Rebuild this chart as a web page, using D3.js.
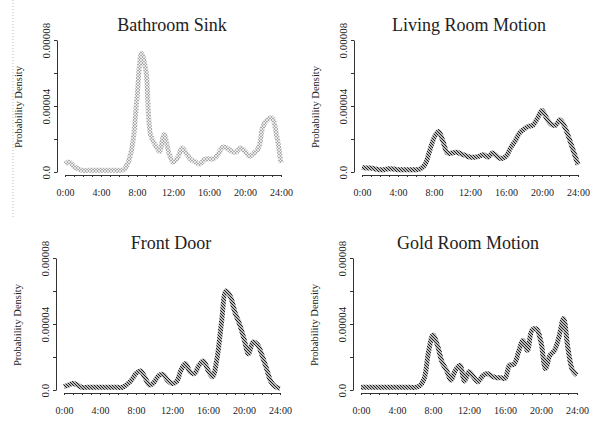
<!DOCTYPE html>
<html>
<head>
<meta charset="utf-8">
<script src="https://cdn.jsdelivr.net/npm/d3@7"></script>
<style>
  body { margin: 0; background: #fff; }
  svg { display: block; font-family: "Liberation Serif", "Times New Roman", serif; }
  .axis path, .axis line { stroke: #333; }
  .axis text { fill: #222; }
</style>
</head>
<body>
<svg id="chart" width="597" height="421"></svg>
<script>
// hours of the day, one point every half hour
const hours = [0, 0.5, 1, 1.5, 2, 2.5, 3, 3.5, 4, 4.5, 5, 5.5, 6, 6.5, 7, 7.5, 8, 8.5, 9, 9.5,
  10, 10.5, 11, 11.5, 12, 12.5, 13, 13.5, 14, 14.5, 15, 15.5, 16, 16.5, 17, 17.5, 18, 18.5, 19, 19.5,
  20, 20.5, 21, 21.5, 22, 22.5, 23, 23.5, 24];

// densities in units of 1e-5
const UNIT = 1e-5;
const bathroomSink = [0.48, 0.6, 0.34, 0.18, 0.1, 0.1, 0.1, 0.1, 0.1, 0.1, 0.1, 0.1, 0.1, 0.14, 0.55, 1.65, 4.5, 7.2, 6.1, 2.26,
  1.65, 1.25, 2.26, 1.25, 0.6, 0.85, 1.45, 1.1, 0.75, 0.6, 0.48, 0.75, 0.8, 0.8, 1.05, 1.5, 1.45, 1.25, 1.2, 1.45,
  1.25, 0.95, 1.15, 1.45, 2.77, 3.17, 3.27, 2.26, 0.55];
const livingRoom = [0.28, 0.24, 0.24, 0.18, 0.14, 0.14, 0.2, 0.18, 0.14, 0.14, 0.14, 0.14, 0.14, 0.2, 0.45, 1.25, 2.06, 2.46, 1.86, 1.15,
  1.15, 1.2, 1.1, 1.0, 0.9, 0.9, 0.95, 1.05, 0.9, 1.15, 0.95, 0.8, 0.95, 1.45, 1.86, 2.36, 2.6, 2.77, 2.83, 3.27,
  3.72, 3.27, 2.9, 2.83, 3.17, 2.77, 2.06, 1.25, 0.45];
const frontDoor = [0.2, 0.3, 0.4, 0.3, 0.16, 0.16, 0.16, 0.16, 0.16, 0.16, 0.16, 0.16, 0.16, 0.16, 0.34, 0.6, 1.0, 1.15, 0.75, 0.3,
  0.46, 0.87, 0.95, 0.6, 0.4, 0.5, 1.2, 1.6, 1.1, 1.0, 1.5, 1.75, 1.2, 0.8, 1.9, 4.1, 6.0, 5.65, 4.7, 4.0,
  3.1, 2.2, 2.9, 2.75, 2.1, 1.3, 0.5, 0.2, 0.1];
const goldRoom = [0.16, 0.16, 0.16, 0.16, 0.16, 0.16, 0.16, 0.16, 0.16, 0.16, 0.16, 0.16, 0.16, 0.24, 0.65, 2.3, 3.33, 2.7, 1.7, 1.2,
  0.6, 1.2, 1.5, 0.55, 1.1, 0.8, 0.5, 0.85, 1.0, 0.85, 0.75, 0.75, 0.7, 1.5, 1.55, 2.3, 3.0, 2.4, 3.64, 3.7,
  2.9, 1.3, 2.1, 2.4, 3.23, 4.34, 2.5, 1.2, 0.9];

const titles = ["Bathroom Sink", "Living Room Motion", "Front Door", "Gold Room Motion"];
const seriesList = [bathroomSink, livingRoom, frontDoor, goldRoom];
const yTicks = [0, 0.00002, 0.00004, 0.00006, 0.00008];
const yLabels = {0: "0.0", 0.00004: "0.00004", 0.00008: "0.00008"};
const xTicks = d3.range(0, 25, 1);

const svg = d3.select("#chart");
const defs = svg.append("defs");

// stippled stroke for the first panel
const dots = defs.append("pattern")
  .attr("id", "dots").attr("patternUnits", "userSpaceOnUse")
  .attr("width", 3).attr("height", 3);
dots.append("circle").attr("cx", 1.5).attr("cy", 1.5).attr("r", 1)
  .attr("fill", "none").attr("stroke", "#444").attr("stroke-width", 0.45);

// diagonal hatch stroke for the others
const hatch = defs.append("pattern")
  .attr("id", "hatch").attr("patternUnits", "userSpaceOnUse")
  .attr("width", 3).attr("height", 3);
hatch.append("path").attr("d", "M-1,-1 L4,4 M-1,2 L1,4 M2,-1 L4,1")
  .attr("stroke", "#111").attr("stroke-width", 1.1);

// faint dotted line along the left edge
svg.append("line")
  .attr("x1", 13).attr("x2", 13).attr("y1", 0).attr("y2", 218)
  .attr("stroke", "#bbb").attr("stroke-dasharray", "1,2");

const offsets = [[0, 0], [297, 0], [-1, 218], [296, 218]];

seriesList.forEach((values, i) => {
  const [ox, oy] = offsets[i];
  const g = svg.append("g").attr("transform", `translate(${ox},${oy})`);

  const x = d3.scaleLinear().domain([0, 24]).range([65, 281]);
  const y = d3.scaleLinear().domain([0, 0.00008]).range([172, 40]);

  // x axis
  g.append("g")
    .attr("class", "axis")
    .attr("transform", "translate(0,175)")
    .call(d3.axisBottom(x).tickValues(xTicks).tickSize(2).tickSizeOuter(0).tickPadding(12)
      .tickFormat(d => d % 4 === 0 ? d + ":00" : ""))
    .call(a => a.selectAll("text").attr("font-size", 10).attr("font-family", "Liberation Serif"));

  // y axis
  g.append("g")
    .attr("class", "axis")
    .attr("transform", "translate(57,0)")
    .call(d3.axisLeft(y).tickValues(yTicks).tickSize(3).tickSizeOuter(0)
      .tickFormat(d => yLabels[d] || ""))
    .call(a => a.selectAll("text")
      .attr("font-size", 11)
      .attr("font-family", "Liberation Serif")
      .attr("transform", "rotate(-90)")
      .attr("x", 0).attr("y", -7).attr("dy", 0)
      .style("text-anchor", "middle"));

  g.append("text")
    .attr("transform", "translate(22,107) rotate(-90)")
    .attr("text-anchor", "middle")
    .attr("font-size", 10.5)
    .attr("fill", "#222")
    .text("Probability Density");

  g.append("text")
    .attr("x", 172).attr("y", 31)
    .attr("text-anchor", "middle")
    .attr("font-size", 18)
    .attr("fill", "#222")
    .text(titles[i]);

  const line = d3.line()
    .curve(d3.curveCatmullRom.alpha(0.5))
    .x((d, j) => x(hours[j]))
    .y(d => y(d * UNIT));

  g.append("path")
    .datum(values)
    .attr("fill", "none")
    .attr("stroke", i === 0 ? "url(#dots)" : "url(#hatch)")
    .attr("stroke-width", 5)
    .attr("stroke-linejoin", "round")
    .attr("d", line);
});
</script>
</body>
</html>
